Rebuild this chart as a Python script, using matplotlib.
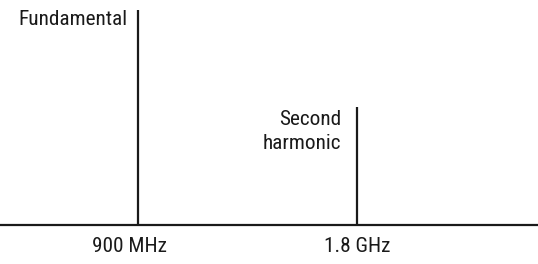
import matplotlib
matplotlib.use("Agg")
import matplotlib.pyplot as plt

# spectrum lines (frequency in MHz, relative amplitude)
freqs = [900, 1800]
amps = [1.0, 0.55]
names = ["Fundamental", "Second\nharmonic"]
tick_labels = ["900 MHz", "1.8 GHz"]

plt.rcParams['font.family'] = ['Roboto Condensed', 'Liberation Sans', 'DejaVu Sans']
plt.rcParams['font.stretch'] = 'condensed'

fig = plt.figure(figsize=(5.38, 2.64), dpi=100)
ax = fig.add_axes([0, 39 / 264, 1, 215 / 264])
ax.set_xlim(333, 2544)
ax.set_ylim(0, 1)
ax.axis('off')

ink = '#1a1a1a'
fs = 15.3

# baseline
ax.axhline(0, color=ink, linewidth=1.6, clip_on=False)

# vertical spectral lines
ax.vlines(freqs, 0, amps, color=ink, linewidth=1.6, clip_on=False)

# line names, sitting just left of each line
ax.text(freqs[0] - 45, 0.958, names[0], ha='right', va='center',
        fontsize=fs, color=ink)
ax.text(freqs[1] - 66, 0.433, names[1], ha='right', va='center',
        multialignment='right', fontsize=fs, color=ink, linespacing=1.33)

# frequency labels under the baseline
ax.text(freqs[0] - 36, -0.098, tick_labels[0], ha='center', va='center',
        fontsize=fs, color=ink, clip_on=False)
ax.text(freqs[1], -0.098, tick_labels[1], ha='center', va='center',
        fontsize=fs, color=ink, clip_on=False)

fig.savefig("out.png", dpi=100)
